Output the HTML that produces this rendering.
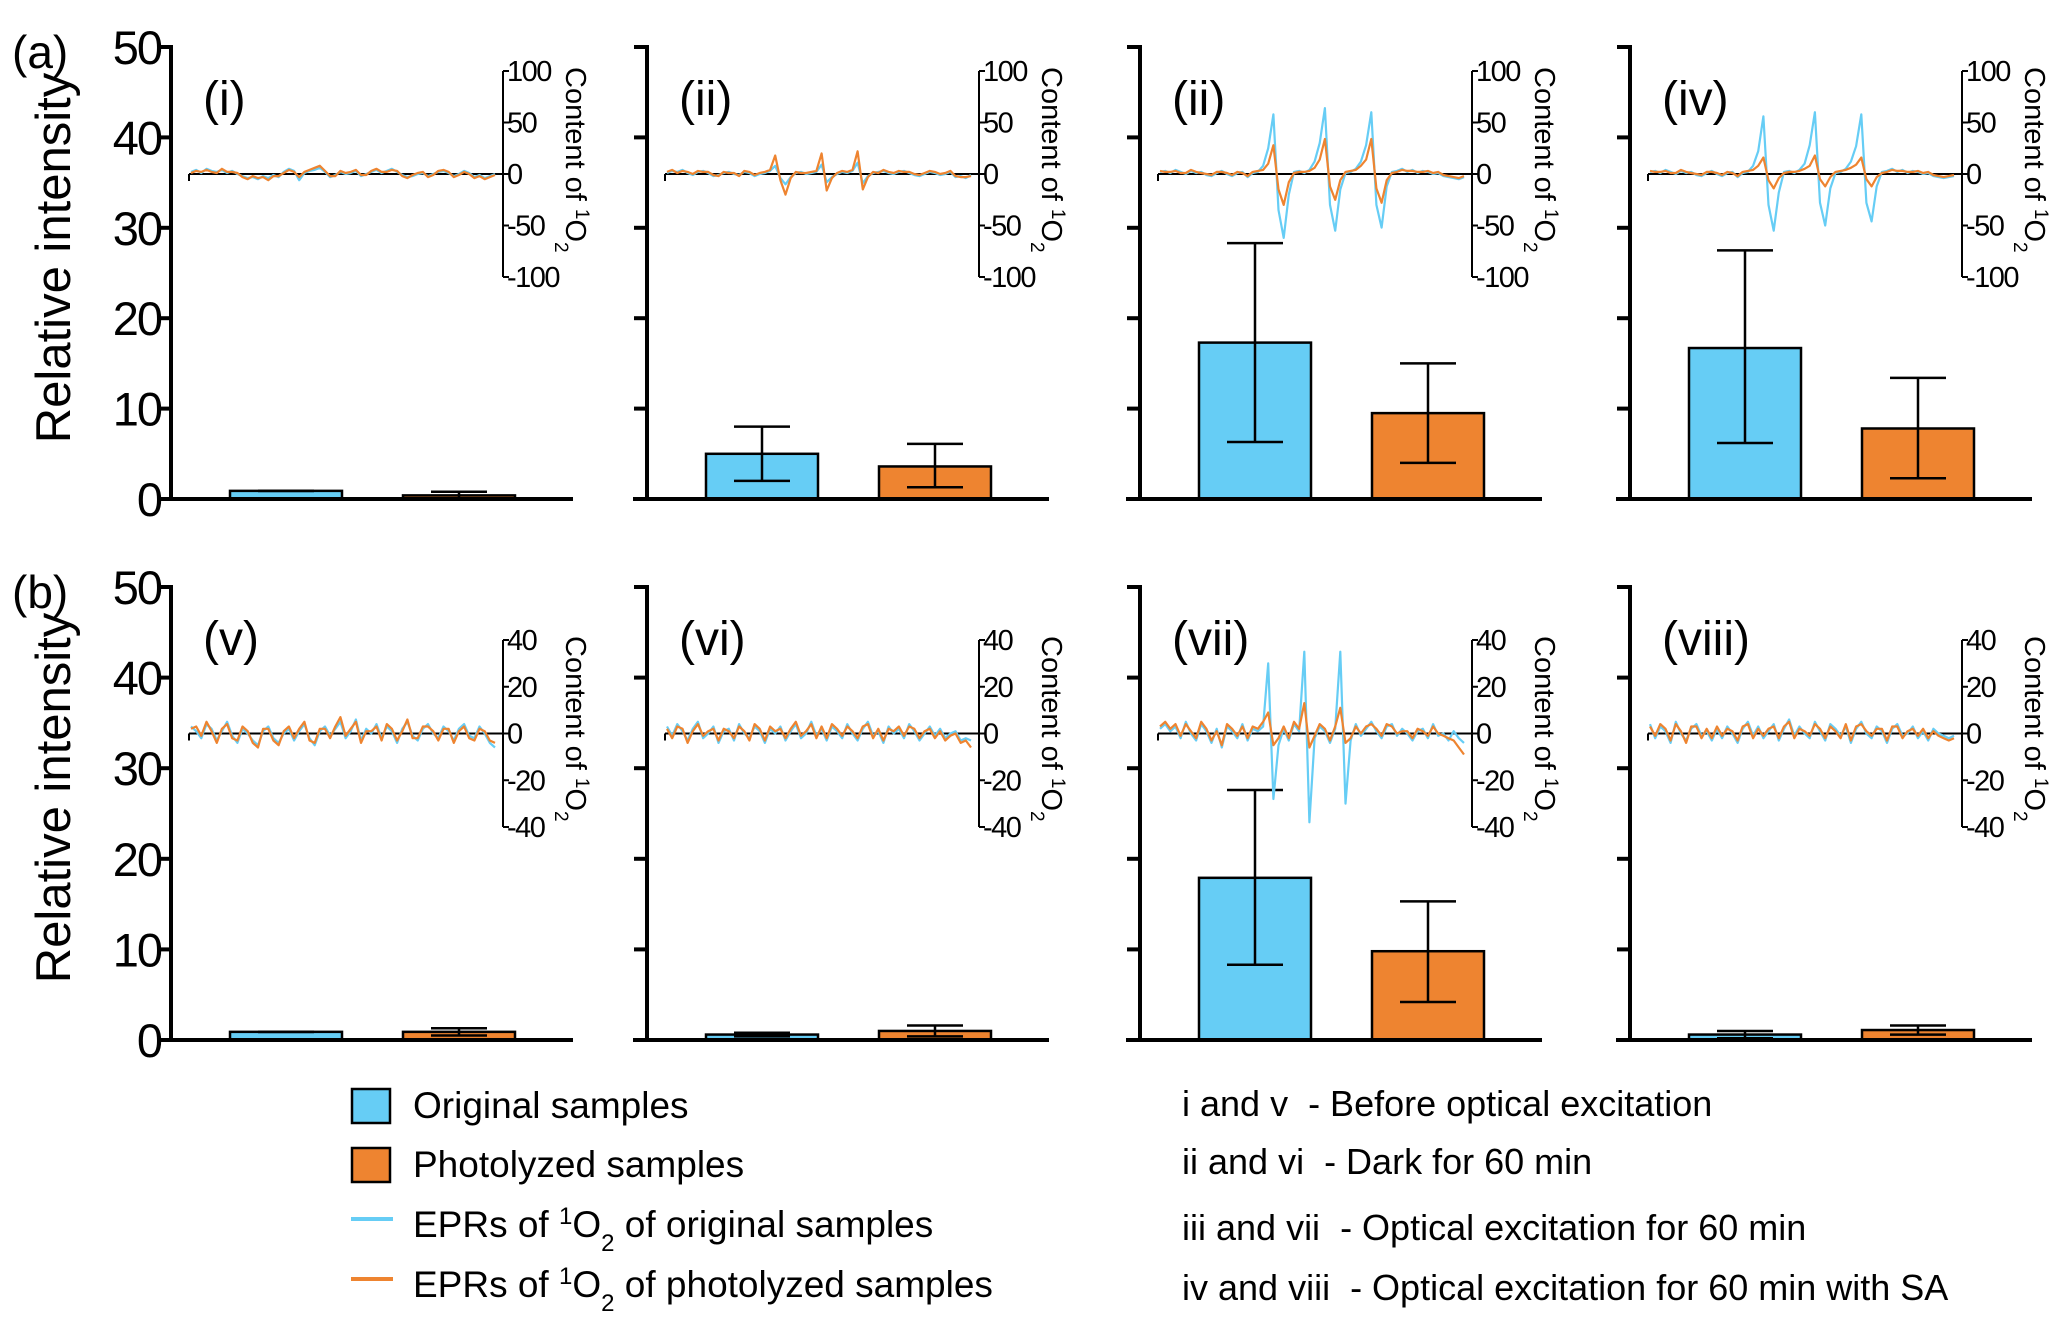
<!DOCTYPE html>
<html><head><meta charset="utf-8"><style>
html,body{margin:0;padding:0;background:#fff;}
svg{display:block;font-family:"Liberation Sans",Arial,sans-serif;}
</style></head><body>
<svg id="fig" width="2067" height="1328" viewBox="0 0 2067 1328" xmlns="http://www.w3.org/2000/svg"></svg>
<script>
// ---- data ----
const panelLabels = ["(i)","(ii)","(ii)","(iv)","(v)","(vi)","(vii)","(viii)"];
const yTicks = [0,10,20,30,40,50];
const origMeans = [0.9,5.0,17.3,16.7,0.9,0.6,17.9,0.6];
const origLow   = [0.9,2.0,6.3,6.2,0.9,0.4,8.3,0.2];
const origHigh  = [0.9,8.0,28.3,27.5,0.9,0.8,27.6,1.0];
const photMeans = [0.4,3.6,9.5,7.8,0.9,1.0,9.8,1.1];
const photLow   = [0.0,1.3,4.0,2.3,0.5,0.4,4.2,0.6];
const photHigh  = [0.8,6.1,15.0,13.4,1.3,1.6,15.3,1.6];
const insetTicksTop = [100,50,0,-50,-100];
const insetTicksBot = [40,20,0,-20,-40];
// EPR traces (60 points each)
const eprOrig = [
 [2,4,1,5,3,2,4,1,3,0,-2,-4,-3,-5,-2,-4,-1,-3,2,5,3,-6,1,3,4,6,2,-3,-1,2,0,1,3,-2,0,2,4,1,3,5,2,-1,-3,-2,0,1,-2,0,2,3,1,-2,0,3,1,-3,-1,-4,-2,0],
 [1,3,2,4,1,-1,2,3,1,-2,-1,1,2,0,-1,2,1,-2,0,1,3,8,-4,-10,-3,1,2,0,1,2,9,-8,-3,0,2,1,3,11,-9,-2,1,2,3,1,0,2,3,1,-1,-2,0,2,1,-1,0,2,-3,-2,-4,-1],
 [2,3,1,4,2,0,3,1,2,-1,-2,1,3,0,-2,1,2,-3,1,2,8,25,58,-35,-62,-20,2,3,1,4,12,30,64,-30,-55,-15,1,2,5,12,28,60,-30,-52,-12,2,3,5,2,4,1,3,2,0,1,-2,-3,-4,-5,-3],
 [2,3,1,4,2,0,3,1,2,-1,-2,1,3,0,-2,1,2,-3,1,2,8,22,56,-30,-55,-18,2,3,1,4,10,28,60,-28,-50,-14,1,2,5,12,27,58,-28,-46,-12,2,3,5,2,4,1,3,2,0,1,-2,-3,-4,-3,-2],
 [3,1,-2,4,2,-3,1,5,-1,-4,2,0,-3,-5,1,3,-2,-4,0,2,-3,1,4,-2,-5,1,3,-1,2,5,-2,1,6,-3,2,0,4,-2,3,1,-4,2,5,-1,-3,2,4,0,-2,3,1,-3,2,4,-1,-2,3,0,-4,-6],
 [3,-1,4,1,-3,2,5,-2,0,3,-4,1,2,-3,4,0,-2,3,1,-4,2,0,3,-3,1,4,-2,0,5,-1,2,-3,3,1,-2,4,0,-3,2,5,-1,1,-4,3,0,2,-2,4,1,-3,0,3,-1,2,-2,0,1,-3,-2,-3],
 [2,4,1,3,-2,5,0,-3,4,1,-4,2,-6,3,1,-2,4,-3,2,1,3,30,-28,-5,2,-3,4,1,35,-38,-2,3,1,-4,2,35,-30,-3,4,-1,2,5,1,-2,3,4,-1,2,0,-3,1,2,-2,4,-1,0,-3,1,-2,-4],
 [4,-2,3,1,-4,5,0,-3,2,4,-1,1,-3,2,-2,3,0,-4,2,5,-1,3,-2,1,4,-3,2,6,-1,3,0,-2,5,1,-3,4,2,-1,3,-4,2,5,0,-2,3,1,-4,2,4,-1,0,3,-2,1,-3,2,0,-1,-2,-1]
];
const eprPhot = [
 [1,3,2,4,2,1,5,2,2,1,-3,-5,-2,-4,-3,-6,-2,-2,1,4,2,-3,2,4,6,8,3,-2,-2,3,1,2,4,-1,-1,3,5,2,2,4,3,-2,-4,-1,1,2,-3,-1,3,4,2,-3,-1,2,0,-4,-2,-5,-3,-1],
 [2,4,1,3,2,0,3,2,2,-1,-2,2,1,1,-2,3,2,-1,1,2,4,18,-6,-20,-4,2,1,1,2,3,20,-16,-4,1,3,2,4,22,-15,-3,2,1,4,2,1,3,2,2,0,-1,1,3,2,0,1,3,-2,-3,-3,-2],
 [3,2,2,3,1,1,4,2,1,0,-1,2,2,1,-1,2,1,-2,2,3,4,10,28,-15,-30,-8,1,2,2,3,6,14,34,-12,-25,-6,2,3,4,8,14,34,-14,-28,-6,1,2,4,3,3,2,2,3,1,2,-1,-2,-3,-4,-2],
 [3,2,2,3,1,1,4,2,1,0,-1,2,2,1,-1,2,1,-2,2,3,4,8,16,-6,-14,-4,1,2,2,3,5,8,18,-5,-12,-3,2,3,4,6,9,16,-5,-12,-3,1,2,4,3,3,2,2,3,1,2,-1,-2,-3,-2,-1],
 [2,3,-1,5,1,-4,2,4,-2,-3,3,1,-4,-6,2,2,-3,-5,1,3,-2,2,5,-3,-4,2,2,-2,3,7,-1,2,5,-4,1,1,3,-3,4,2,-3,1,6,-2,-2,3,3,1,-3,2,2,-4,1,3,-2,-3,2,1,-3,-4],
 [2,-2,3,2,-4,1,4,-1,1,2,-3,2,1,-2,3,1,-3,4,2,-3,3,1,2,-2,2,5,-1,1,4,-2,3,-2,4,2,-1,3,1,-2,3,4,-2,2,-3,2,1,3,-1,3,2,-2,1,2,-2,1,-3,-1,0,-4,-3,-6],
 [3,5,2,4,-1,4,1,-2,5,2,-3,1,-5,4,2,-1,3,-2,3,2,5,9,-5,-2,3,-2,5,2,13,-6,-1,4,2,-3,3,11,-4,-2,3,0,3,4,2,-1,4,3,0,1,1,-2,2,1,-1,3,0,-1,-2,-3,-6,-9],
 [3,-1,4,2,-3,4,1,-4,3,3,-2,2,-2,3,-1,2,1,-3,3,4,-2,2,-1,2,3,-2,3,5,-2,2,1,-1,4,2,-2,3,1,-2,4,-3,3,4,1,-1,2,2,-3,3,3,-2,1,2,-1,2,-2,1,-1,-2,-3,-2]
];
// ---- layout ----
const svg = document.getElementById('fig');
const NS = 'http://www.w3.org/2000/svg';
function mk(tag, attrs, parent){const e=document.createElementNS(NS,tag);for(const k in attrs)e.setAttribute(k,attrs[k]);(parent||svg).appendChild(e);return e;}
const axisXs = [171,647,1140,1630];
const rows = [{y50:47,y0:499},{y50:587,y0:1040}];
const BLUE='#66CDF5', ORANGE='#EE8430';

for(let p=0;p<8;p++){
  const r=Math.floor(p/4), c=p%4;
  const ax=axisXs[c], R=rows[r];
  const g=mk('g',{});
  
  
  const yS=v=>R.y0-(v/50)*(R.y0-R.y50);
  const bars=[[59,origMeans[p],origLow[p],origHigh[p],BLUE,'bar-original'],[232,photMeans[p],photLow[p],photHigh[p],ORANGE,'bar-photolyzed']];
  bars.forEach(b=>{
    const x0=ax+b[0], w=112, cx=x0+w/2;
    const rect=mk('rect',{x:x0,y:yS(b[1]),width:w,height:Math.max(0,R.y0-yS(b[1])),fill:b[4],stroke:'#000','stroke-width':2.5},g);
    
    
    const eg=mk('g',{stroke:'#000','stroke-width':2.5},g);
    
    
    mk('line',{x1:cx,x2:cx,y1:yS(b[2]),y2:yS(b[3])},eg);
    mk('line',{x1:cx-28,x2:cx+28,y1:yS(b[3]),y2:yS(b[3])},eg);
    mk('line',{x1:cx-28,x2:cx+28,y1:yS(b[2]),y2:yS(b[2])},eg);
    mk('line',{x1:cx,x2:cx,y1:R.y0,y2:R.y0+20,'stroke-width':3.5},g);
  });
  const ya=mk('line',{x1:ax,x2:ax,y1:R.y50-2,y2:R.y0+2,stroke:'#000','stroke-width':4},g);
  
  
  const xa=mk('line',{x1:ax-14,x2:ax+402,y1:R.y0,y2:R.y0,stroke:'#000','stroke-width':4},g);
  
  
  yTicks.forEach(t=>{
    mk('line',{x1:ax-13,x2:ax,y1:yS(t),y2:yS(t),stroke:'#000','stroke-width':4},g);
    if(c===0){
      const tl=mk('text',{x:ax-10,y:yS(t)+17,'text-anchor':'end','font-size':47,'letter-spacing':-2},g);
      tl.textContent=t;
      
      
    }
  });
  const pl=mk('text',{x:ax+32,y:R.y50+68,'font-size':48},g);
  pl.textContent=panelLabels[p];
  
  
  const iax=ax+332;
  const top=r===0?R.y50+24:R.y50+53, bot=r===0?R.y50+230:R.y50+240;
  const zero=(top+bot)/2;
  const ticks=r===0?insetTicksTop:insetTicksBot;
  const rng=ticks[0];
  const iy=v=>zero-(v/rng)*(zero-top);
  const ig=mk('g',{},g);
  
  
  mk('line',{x1:ax+18,x2:iax,y1:zero,y2:zero,stroke:'#000','stroke-width':2},ig);
  mk('line',{x1:ax+18,x2:ax+18,y1:zero,y2:zero+7,stroke:'#000','stroke-width':2},ig);
  mk('line',{x1:iax,x2:iax,y1:top,y2:bot,stroke:'#000','stroke-width':2},ig);
  ticks.forEach(t=>{
    mk('line',{x1:iax,x2:iax+6,y1:iy(t),y2:iy(t),stroke:'#000','stroke-width':2},ig);
    const it=mk('text',{x:iax+4,y:iy(t)+10,'font-size':29,'letter-spacing':-1.5},ig);
    it.textContent=t;
    
    
  });
  const tt=mk('text',{x:0,y:0,'font-size':29,transform:`translate(${iax+63},${top-4}) rotate(90)`},ig);
  tt.innerHTML='Content of <tspan baseline-shift="super" font-size="19">1</tspan>O<tspan baseline-shift="sub" font-size="19">2</tspan>';
  
  
  const xs0=ax+20, xs1=iax-8;
  [[eprOrig[p],BLUE,'epr-trace-original'],[eprPhot[p],ORANGE,'epr-trace-photolyzed']].forEach(tr=>{
    const d=tr[0].map((v,i)=>(i?'L':'M')+(xs0+i*(xs1-xs0)/(tr[0].length-1)).toFixed(1)+','+iy(v).toFixed(1)).join(' ');
    const pe=mk('path',{d:d,fill:'none',stroke:tr[1],'stroke-width':2.2,'stroke-linejoin':'round'},ig);
    
    
  });
}
[['(a)',27,52],['(b)',27,592]].forEach(a=>{
  const t=mk('text',{x:12,y:a[2]+16,'font-size':46});t.textContent=a[0];
  
  
});
[258,798].forEach(cy=>{
  const t=mk('text',{x:0,y:0,'font-size':49,'text-anchor':'middle',transform:`translate(70,${cy}) rotate(-90)`});
  t.textContent='Relative intensity';
  
  
});
const lg=mk('g',{'font-size':37});


const le=[['box',BLUE,1106,'Original samples'],['box',ORANGE,1165,'Photolyzed samples'],['line',BLUE,1225,'EPRs of <tspan baseline-shift="super" font-size="24">1</tspan>O<tspan baseline-shift="sub" font-size="24">2</tspan> of original samples'],['line',ORANGE,1285,'EPRs of <tspan baseline-shift="super" font-size="24">1</tspan>O<tspan baseline-shift="sub" font-size="24">2</tspan> of photolyzed samples']];
le.forEach(e=>{
  const eg=mk('g',{},lg);
  
  
  if(e[0]==='box') mk('rect',{x:352,y:e[2]-17,width:38,height:34,fill:e[1],stroke:'#000','stroke-width':2.5},eg);
  else mk('line',{x1:351,x2:393,y1:e[2]-6,y2:e[2]-6,stroke:e[1],'stroke-width':4},eg);
  const t=mk('text',{x:413,y:e[2]+12},eg);t.innerHTML=e[3];
});
const notes=[[1104,'i and v\u00a0\u00a0- Before optical excitation'],[1162,'ii and vi\u00a0\u00a0- Dark for 60 min'],[1228,'iii and vii\u00a0\u00a0- Optical excitation for 60 min'],[1288,'iv and viii\u00a0\u00a0- Optical excitation for 60 min with SA']];
notes.forEach(n=>{
  const t=mk('text',{x:1182,y:n[0]+12,'font-size':36},lg);
  t.textContent=n[1];
  
  
});
</script>
</body></html>
